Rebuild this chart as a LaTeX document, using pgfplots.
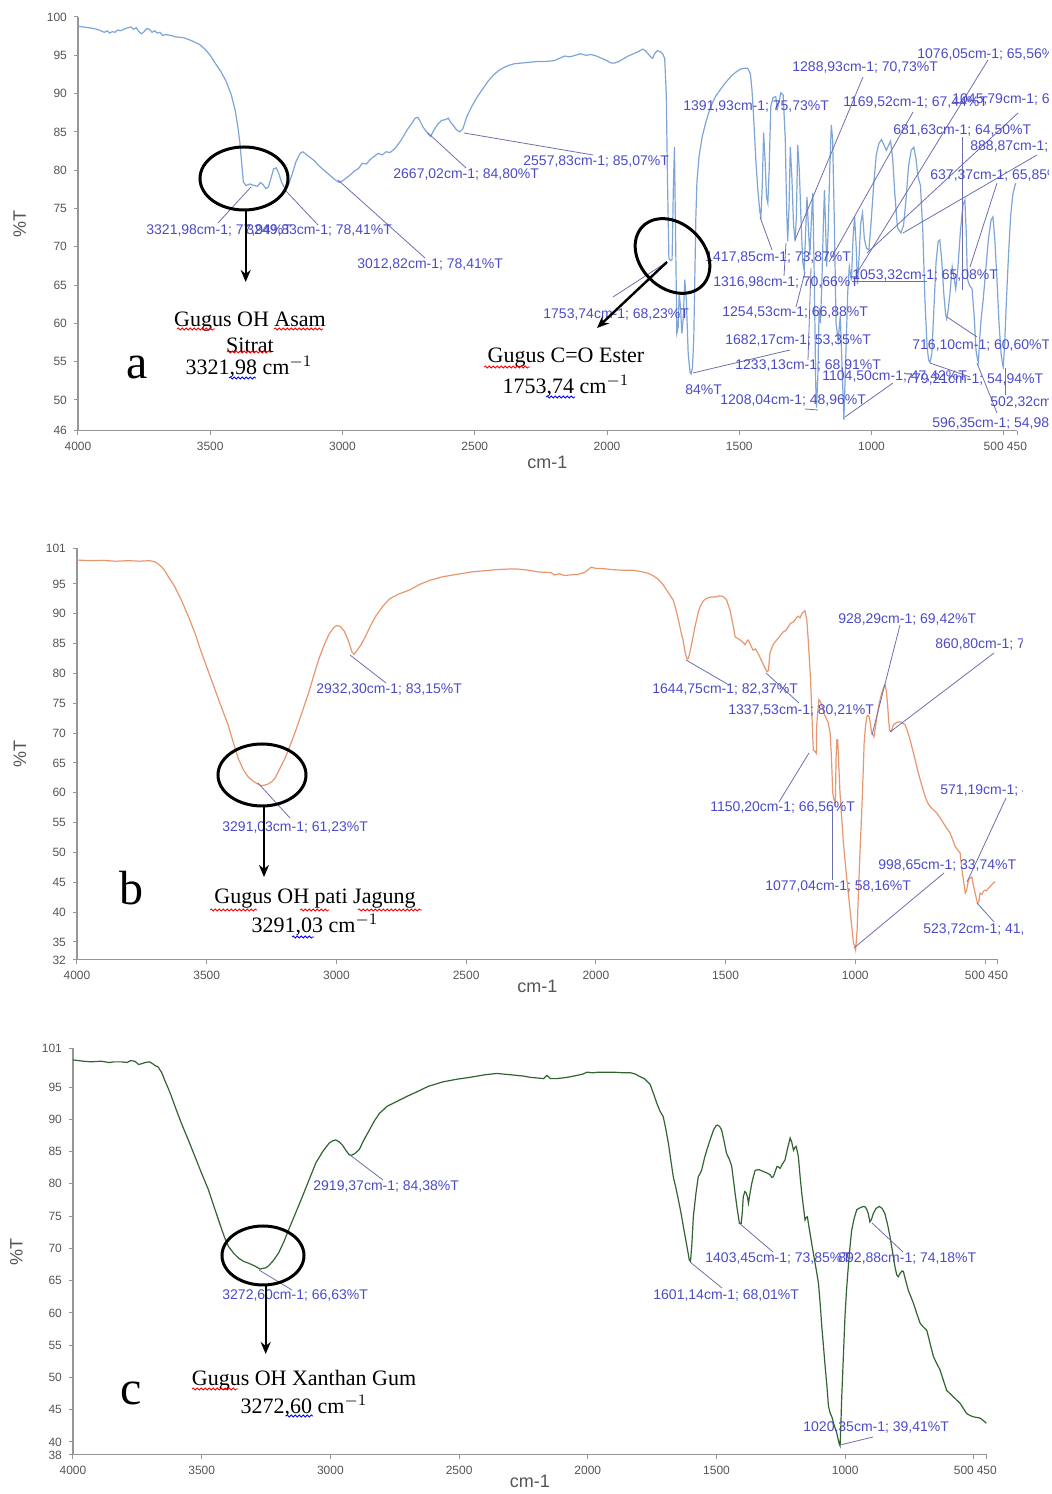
\documentclass[border=0pt]{standalone}
\usepackage{pgfplots}
\pgfplotsset{compat=1.18}
\usepackage{fontspec}
\setmainfont{Liberation Sans}
\newfontfamily\tnr{Liberation Serif}
\usetikzlibrary{arrows.meta,decorations.pathmorphing}
\definecolor{specA}{RGB}{125,165,215}
\definecolor{specB}{RGB}{232,150,110}
\definecolor{specC}{RGB}{50,100,50}
\definecolor{lbl}{RGB}{75,75,200}
\definecolor{lead}{RGB}{110,110,175}
\definecolor{tickgray}{RGB}{85,85,85}
\definecolor{axgray}{RGB}{150,150,150}
\pgfplotsset{
  ftir/.style={
    scale only axis, anchor=south west,
    x dir=reverse, xmin=450, xmax=4000,
    axis lines*=left,
    axis line style={draw=axgray, line width=0.6pt},
    every tick/.style={draw=axgray, line width=0.5pt},
    major tick length=2pt, tick align=outside,
    xtick={4000,3500,3000,2500,2000,1500,1000,450},
    xticklabels={4000,3500,3000,2500,2000,1500,1000,450},
    extra x ticks={500}, extra x tick labels={500},
    extra x tick style={xticklabel style={anchor=north east, xshift=3.5pt}},
    ticklabel style={font=\fontsize{6}{7}\selectfont, text=tickgray},
    /pgf/number format/assume math mode=true,
    xlabel={cm-1}, ylabel={\%T},
    label style={font=\fontsize{9}{10}\selectfont, text=tickgray},
    ylabel style={at={(axis description cs:-0.062,0.5)}, anchor=center},
    clip=false,
  },
}
\tikzset{
  lb/.style={anchor=west, inner sep=0pt, text=lbl, font=\fontsize{7}{8}\selectfont},
  ld/.style={draw=lead, line width=0.4pt},
  ann/.style={font=\tnr\fontsize{11}{12}\selectfont, inner sep=0pt},
  big/.style={font=\tnr\fontsize{24}{26}\selectfont, inner sep=0pt},
  ring/.style={draw=black, line width=1.5pt},
  arr/.style={draw=black, line width=1.2pt, -{Stealth[length=6pt,width=5pt]}},
  sqr/.style={draw=red, line width=0.4pt, decorate, decoration={snake, amplitude=0.5pt, segment length=2pt}},
  sqb/.style={draw=blue, line width=0.4pt, decorate, decoration={snake, amplitude=0.5pt, segment length=2pt}},
}
\begin{document}
\begin{tikzpicture}
\useasboundingbox (0,0) rectangle (526pt,747pt);
% ---------------- panel a ----------------
\begin{axis}[ftir, at={(39pt,531.7pt)}, width=469.5pt, height=206.8pt,
  ymin=46, ymax=100, ytick={46,50,55,60,65,70,75,80,85,90,95,100},
  xlabel style={at={(axis description cs:0.5,0)}, anchor=center, yshift=-15.7pt}]
\addplot[specA, line width=0.6pt] coordinates {
(4000,98.8)(3980,98.7)(3960,98.6)(3940,98.5)(3920,98.3)(3900,98.0)(3890,98.2)(3880,97.9)(3870,98.1)(3860,98.0)(3850,98.3)(3840,98.2)(3820,98.5)(3800,98.7)(3790,98.4)(3780,98.6)(3770,98.1)(3760,97.8)(3750,98.1)(3740,98.5)(3730,98.4)(3720,98.0)(3710,98.2)(3700,97.9)(3690,98.0)(3680,97.6)(3670,97.7)(3650,97.6)(3630,97.4)(3600,97.3)(3570,96.9)(3540,96.4)(3520,95.8)(3500,95.0)(3480,93.9)(3460,92.9)(3440,91.6)(3420,89.8)(3405,87.7)(3395,85.5)(3388,83.6)(3380,80.5)(3375,78.5)(3365,78.0)(3350,78.2)(3335,78.0)(3322,77.9)(3310,78.4)(3300,78.1)(3290,77.6)(3280,77.8)(3270,79.0)(3260,80.2)(3250,80.3)(3240,79.5)(3230,78.4)(3215,77.4)(3205,78.0)(3190,79.5)(3175,81.2)(3160,82.2)(3150,82.4)(3135,82.0)(3120,81.6)(3105,81.2)(3090,80.6)(3070,80.0)(3050,79.4)(3030,78.8)(3013,78.4)(3000,78.6)(2985,79.0)(2970,79.4)(2955,79.9)(2940,80.2)(2925,80.9)(2910,80.8)(2895,81.4)(2880,81.8)(2865,82.2)(2850,82.0)(2835,82.4)(2820,82.3)(2800,82.9)(2785,83.6)(2770,84.4)(2755,85.3)(2740,86.0)(2725,86.8)(2715,86.9)(2705,86.3)(2695,85.6)(2680,84.9)(2667,84.4)(2655,85.2)(2640,86.0)(2625,86.5)(2610,86.6)(2600,86.8)(2590,86.2)(2580,85.8)(2570,85.3)(2557,85.0)(2545,85.4)(2530,87.0)(2510,88.4)(2490,89.6)(2470,90.6)(2450,91.6)(2430,92.4)(2410,93.0)(2390,93.4)(2370,93.7)(2350,93.9)(2320,94.0)(2290,94.1)(2260,94.2)(2230,94.2)(2200,94.3)(2180,94.6)(2160,94.9)(2140,94.8)(2120,95.0)(2100,95.2)(2080,95.0)(2060,95.1)(2040,94.9)(2020,94.6)(2000,94.3)(1985,94.0)(1970,94.0)(1955,94.2)(1940,94.5)(1920,94.9)(1900,95.2)(1880,95.5)(1865,95.8)(1855,95.6)(1845,95.2)(1835,94.8)(1828,94.6)(1820,95.2)(1810,95.6)(1800,95.5)(1790,95.2)(1782,94.6)
(1776,90)(1771,78)(1766,68.5)(1760,68.2)(1754,68.3)(1749,78)(1745,83.0)(1741,72)(1736,58.7)(1731,59.5)(1727,64)(1722,62)(1717,58.7)(1712,60.5)(1706,65.7)(1700,63)(1693,56)(1686,53.6)(1682,53.4)(1677,54.2)(1672,58)(1668,66)(1664,74)(1660,78.5)(1652,81.8)(1640,84.4)(1626,86.3)(1608,88.3)(1590,89.6)(1570,90.6)(1550,91.5)(1530,92.3)(1513,92.8)(1495,93.2)(1480,93.3)(1468,93.3)(1458,92.6)(1452,90.5)(1445,86.5)(1438,81.7)(1430,77.5)(1422,74.5)(1418,73.9)(1413,78)(1408,84.9)(1402,81)(1397,76.5)(1392,75.7)(1387,80)(1381,88.3)(1372,89.5)(1362,89.6)(1356,88.0)(1350,88.8)(1343,90.1)(1334,89.8)(1326,84)(1321,75)(1317,70.7)(1312,75)(1307,83.0)(1301,79)(1295,73)(1289,70.7)(1284,74)(1279,83.3)(1273,80)(1266,73)(1260,68)(1254.5,66.9)(1249,72)(1244,76.5)(1238,72)(1233,68.9)(1228,73)(1222,77)(1216,65)(1211,52)(1208,49.0)(1203,53)(1198,62)(1193,60)(1188,65)(1182,73)(1178,77.4)(1174,73)(1169.5,67.4)(1164,72)(1158,80)(1152,85.9)(1147,84)(1141,74)(1134,60)(1126,57.8)(1118,61)(1112,55)(1104.5,47.4)(1097,56)(1090,64)(1084,67.4)(1076,65.6)(1070,71)(1064,74)(1058,70)(1053,65.1)(1048,68)(1041,73)(1034,74.4)(1027,71)(1019,69.8)(1010,69.6)(1002,73)(992,78)(982,82)(972,83.5)(962,84.0)(952,83.2)(944,82.6)(936,83.2)(928,83.8)(920,81.5)(912,77)(902,72.5)(889,71.8)(879,72.8)(870,76)(860,80.5)(850,82.6)(840,83.0)(832,81.5)(824,79.1)(815,78)(806,72)(798,63)(790,57)(784,55.2)(779,54.9)(772,56)(764,62)(756,68)(748,70.7)(742,70.9)(735,68.5)(727,64)(720,61.2)(716,60.6)(711,61.5)(703,64)(695,67.4)(688,66)(681.6,64.5)(674,67)(664,72)(654,75.5)(647,76.1)(642,72)(637.4,65.8)(630,65)(620,64.5)(612,61)(605,56.5)(599,55.2)(596,54.9)(591,58)(585,60.8)(578,63)(568,67)(558,71)(548,73.5)(541,73.9)(534,71)(526,66)(518,60)(510,56)(504,54.5)(502,54.3)(497,57)(490,63)(482,69)(474,74)(466,76.8)(458,78)(454,78.3)
};
\end{axis}
% ---------------- panel b ----------------
\begin{axis}[ftir, at={(38.5pt,267.05pt)}, width=460.5pt, height=205.9pt,
  ymin=32, ymax=101, ytick={32,35,40,45,50,55,60,65,70,75,80,85,90,95,101},
  xlabel style={at={(axis description cs:0.5,0)}, anchor=center, yshift=-13.5pt}]
\addplot[specB, line width=0.6pt] coordinates {
(4000,99.0)(3950,98.9)(3900,98.95)(3850,98.8)(3800,98.9)(3760,98.8)(3720,98.9)(3700,98.7)(3689,98.4)(3675,97.9)(3663,97.3)(3645,96.0)(3624,94.6)(3600,92.5)(3572,89.7)(3545,86.7)(3521,83.6)(3495,80.5)(3469,77.4)(3443,74.3)(3417,71.3)(3398,68.5)(3378,65.7)(3358,63.8)(3339,62.6)(3320,61.9)(3300,61.4)(3291,61.2)(3275,61.3)(3262,61.5)(3248,61.9)(3236,62.5)(3220,63.9)(3197,65.9)(3178,68.0)(3158,70.3)(3130,73.8)(3106,76.9)(3085,80.0)(3067,82.5)(3045,85.0)(3028,86.6)(3010,87.7)(3000,88.0)(2985,87.9)(2970,87.1)(2955,85.6)(2940,83.6)(2932,83.2)(2920,83.9)(2905,84.8)(2886,86.4)(2865,88.3)(2847,89.7)(2820,91.3)(2795,92.5)(2760,93.3)(2717,94.0)(2680,94.9)(2640,95.6)(2590,96.2)(2536,96.6)(2480,97.0)(2432,97.2)(2380,97.4)(2330,97.5)(2303,97.5)(2260,97.3)(2220,97.0)(2173,96.9)(2160,96.5)(2140,96.7)(2121,96.4)(2100,96.5)(2070,96.6)(2044,96.9)(2030,97.4)(2018,97.8)(2000,97.6)(1980,97.6)(1960,97.5)(1940,97.4)(1900,97.3)(1860,97.3)(1830,97.1)(1800,96.8)(1780,96.4)(1760,95.8)(1740,94.8)(1720,93.5)(1702,92.3)(1690,90.5)(1680,88.6)(1672,87.0)(1664,85.6)(1656,83.5)(1650,82.6)(1645,82.4)(1638,83.4)(1630,85.1)(1618,87.8)(1605,90.3)(1598,91.2)(1585,92.2)(1573,92.6)(1555,92.8)(1540,92.8)(1525,93.0)(1510,92.9)(1497,92.4)(1483,90.6)(1473,88.5)(1463,86.1)(1454,85.9)(1444,85.6)(1432,85.2)(1425,84.8)(1418,85.4)(1413,85.6)(1404,84.8)(1394,83.9)(1385,84.1)(1375,83.4)(1362,82.2)(1348,80.9)(1340,80.3)(1335,80.5)(1329,83.4)(1316,84.9)(1303,85.6)(1290,86.3)(1277,87.0)(1268,87.2)(1258,87.8)(1250,88.4)(1239,88.6)(1232,89.0)(1226,89.4)(1220,89.6)(1213,89.3)(1206,90.0)(1200,90.3)(1194,90.5)(1187,89.0)(1182,86.0)(1177,82.3)(1172,78.5)(1168,73.9)(1165,70.5)(1162,67.2)(1155,66.9)(1150,66.6)(1149,71.1)(1144,74.0)(1140,75.6)(1135,75.3)(1129,74.7)(1122,73.5)(1116,72.8)(1110,72.3)(1104,71.7)(1097,70.0)(1092,66)(1087,60.0)(1082,58.8)(1077,58.2)(1074,66)(1071,68.9)(1068,68.9)(1064,65)(1059,60.0)(1052,55.5)(1046,51.6)(1037,47.5)(1027,43.2)(1017,39.0)(1007,34.8)(1001,34.2)(998.7,33.7)(993,37)(988,43.2)(982,50)(975,57.1)(970,63)(966,68.3)(961,71)(956,72.7)(951,73)(946,72.7)(940,71)(937,70.0)(930,69.6)(928,69.4)(924,70.5)(917,72.7)(908,75)(898,76.7)(890,77.8)(885,78.1)(880,77)(876,75.0)(872,72.5)(868,70.5)(861,70.3)(853,71.4)(840,71.8)(827,71.9)(815,71.6)(808,71.4)(798,70.2)(789,68.9)(779,67.2)(769,65.5)(760,63.8)(750,62.2)(740,60.7)(731,59.4)(722,58.4)(712,57.7)(700,57.2)(686,56.6)(673,55.8)(660,54.9)(648,54.1)(635,53.3)(625,52.2)(615,51.0)(605,50.4)(596,49.9)(589,47.1)(582,45)(576,43.2)(571,43.6)(564,45.4)(557,45.7)(551,45.9)(545,44.5)(538,43.2)(533,42.2)(529,41.5)(524,41.7)(519,43.2)(512,43.0)(506,43.5)(500,43.7)(494,43.6)(487,44.0)(480,44.3)(474,44.6)(468,44.9)(461,45.1)
};
\end{axis}
% ---------------- panel c ----------------
\begin{axis}[ftir, at={(36.5pt,19.55pt)}, width=456.9pt, height=203.3pt,
  ymin=38, ymax=101, ytick={38,40,45,50,55,60,65,70,75,80,85,90,95,101},
  xlabel style={at={(axis description cs:0.5,0)}, anchor=center, yshift=-13pt}]
\addplot[specC, line width=0.6pt] coordinates {
(4000,99.2)(3960,99.0)(3930,98.9)(3891,99.0)(3860,98.8)(3840,98.9)(3812,98.9)(3790,98.8)(3775,99.1)(3760,99.0)(3745,98.5)(3734,98.6)(3720,98.8)(3703,98.9)(3690,98.6)(3680,98.3)(3669,98.1)(3655,97.2)(3643,96.0)(3630,94.8)(3617,93.5)(3600,91.6)(3578,89.3)(3552,86.8)(3526,84.2)(3500,81.6)(3474,79.1)(3448,76.0)(3422,72.9)(3410,71.6)(3396,70.3)(3375,69.2)(3357,68.5)(3338,68.0)(3318,67.7)(3295,67.3)(3273,66.8)(3262,66.9)(3250,67.0)(3240,67.3)(3220,68.2)(3201,69.3)(3180,71.1)(3162,72.9)(3135,75.5)(3109,78.0)(3083,80.6)(3057,83.2)(3030,85.0)(3005,86.3)(2990,86.7)(2979,86.8)(2966,86.5)(2953,86.0)(2940,85.2)(2927,84.5)(2919,84.4)(2905,84.7)(2888,85.3)(2870,86.8)(2849,88.3)(2830,89.7)(2810,90.9)(2780,92.0)(2745,92.7)(2700,93.6)(2667,94.2)(2620,95.1)(2563,95.8)(2510,96.2)(2458,96.5)(2400,96.9)(2354,97.1)(2300,96.9)(2250,96.7)(2224,96.5)(2195,96.4)(2172,96.3)(2159,96.8)(2145,96.3)(2120,96.3)(2080,96.5)(2042,96.8)(2020,97.0)(2003,97.3)(1980,97.2)(1960,97.3)(1938,97.3)(1900,97.3)(1860,97.2)(1833,97.2)(1815,97.0)(1797,96.6)(1780,96.3)(1770,95.9)(1758,95.4)(1745,94.0)(1732,92.5)(1720,91.3)(1707,90.4)(1697,88.5)(1687,86.3)(1678,83.8)(1668,81.1)(1658,79.4)(1648,77.5)(1638,75.5)(1629,73.4)(1618,71.0)(1610,69.2)(1606,68.2)(1601,68.0)(1596,70.5)(1590,74.9)(1580,78.5)(1571,81.1)(1565,81.5)(1558,82.1)(1548,83.8)(1538,85.2)(1525,86.8)(1512,88.3)(1502,89.0)(1497,89.1)(1488,88.9)(1480,88.3)(1470,86.5)(1461,84.7)(1450,83.8)(1441,82.7)(1434,80.5)(1428,78.6)(1420,76.2)(1411,73.9)(1404,73.9)(1400,75.5)(1396,78.0)(1390,78.8)(1385,78.6)(1380,78.0)(1376,77.0)(1370,78.5)(1363,80.1)(1356,81.2)(1350,82.1)(1335,82.2)(1318,81.9)(1305,81.7)(1292,81.4)(1285,81.0)(1279,81.1)(1272,81.9)(1265,82.7)(1259,82.6)(1253,82.4)(1245,83.0)(1234,83.7)(1224,85.5)(1214,87.1)(1208,86.5)(1201,85.2)(1196,85.6)(1191,85.8)(1186,85.0)(1182,84.2)(1175,81.0)(1169,78.6)(1162,76.3)(1156,74.4)(1151,74.8)(1147,74.9)(1142,73.6)(1137,72.4)(1127,70.0)(1117,67.7)(1110,66.1)(1104,64.6)(1097,61.3)(1091,57.9)(1084,54.6)(1078,51.7)(1071,48.6)(1065,45.5)(1058,44.4)(1052,43.9)(1043,42.6)(1033,41.4)(1028,40.5)(1024,39.8)(1020,39.4)(1017,42.5)(1014,46.5)(1008,52.5)(1001,59.4)(995,63.5)(988,67.2)(982,70.0)(975,72.8)(965,74.7)(955,76.0)(942,76.3)(929,76.5)(922,76.4)(916,76.0)(910,75.3)(904,74.1)(898,74.5)(891,75.4)(880,76.2)(868,76.5)(857,76.2)(846,75.4)(836,73.8)(826,71.8)(816,69.4)(807,67.2)(800,65.9)(794,65.6)(786,66.2)(779,66.5)(774,66.4)(765,65.0)(755,63.5)(745,62.5)(735,61.5)(722,59.9)(709,58.4)(696,57.8)(683,57.3)(670,55.2)(657,53.2)(645,52.2)(632,51.2)(619,49.6)(606,48.0)(593,47.5)(580,47.0)(567,46.5)(554,46.0)(541,45.2)(528,44.4)(515,44.1)(502,43.9)(489,43.8)(476,43.7)(466,43.4)(457,43.1)(452,42.9)
};
\end{axis}
% ---------------- annotations (pixel coordinates) ----------------
\begin{scope}[x=0.5pt,y=-0.5pt,yshift=747pt]
% panel a leader lines
\draw[ld] (218,223)--(251,187);
\draw[ld] (285,190)--(318,225);
\draw[ld] (338,180)--(425,258);
\draw[ld] (428,133)--(466,168);
\draw[ld] (464,133)--(593,155);
\draw[ld] (667,262)--(613,297);
\draw[ld] (760,217)--(772,250);
\draw[ld] (786,243)--(784,276);
\draw[ld] (796,307)--(805,272);
\draw[ld] (693,373)--(790,350);
\draw[ld] (808,360)--(811,268);
\draw[ld] (805,409)--(818,410);
\draw[ld] (845,417)--(893,383);
\draw[ld] (863,77)--(795,240);
\draw[ld] (913,112)--(829,262);
\draw[ld] (988,60)--(857,273);
\draw[ld] (1018,113)--(867,253);
\draw[ld] (1037,155)--(903,233);
\draw[ld] (962,137)--(962,290);
\draw[ld] (997,183)--(970,267);
\draw[ld] (947,317)--(977,337);
\draw[ld] (930,363)--(970,377);
\draw[ld] (997,413)--(977,363);
\draw[ld] (852,281)--(927,281);
\draw[ld] (1005,395)--(1005,368);
\begin{scope}
\clip (0,0) rectangle (1048,480);
\node[lb] at (146,231) {3321,98cm-1; 77,94\%T};
\node[lb] at (246,231) {3249,83cm-1; 78,41\%T};
\node[lb] at (357,265) {3012,82cm-1; 78,41\%T};
\node[lb] at (393,175) {2667,02cm-1; 84,80\%T};
\node[lb] at (523,162) {2557,83cm-1; 85,07\%T};
\node[lb] at (543,315) {1753,74cm-1; 68,23\%T};
\node[lb] at (683,107) {1391,93cm-1; 75,73\%T};
\node[lb] at (792,68) {1288,93cm-1; 70,73\%T};
\node[lb] at (917,55) {1076,05cm-1; 65,56\%T};
\node[lb] at (843,103) {1169,52cm-1; 67,44\%T};
\node[lb] at (952,100) {1045,79cm-1; 64,98\%T};
\node[lb] at (893,131) {681,63cm-1; 64,50\%T};
\node[lb] at (970,147) {888,87cm-1; 71,80\%T};
\node[lb] at (930,176) {637,37cm-1; 65,85\%T};
\node[lb] at (705,258) {1417,85cm-1; 73,87\%T};
\node[lb] at (713,283) {1316,98cm-1; 70,66\%T};
\node[lb] at (852,276) {1053,32cm-1; 65,08\%T};
\node[lb] at (722,313) {1254,53cm-1; 66,88\%T};
\node[lb] at (725,341) {1682,17cm-1; 53,35\%T};
\node[lb] at (912,346) {716,10cm-1; 60,60\%T};
\node[lb] at (735,366) {1233,13cm-1; 68,91\%T};
\node[lb] at (822,377) {1104,50cm-1; 47,42\%T};
\node[lb] at (905,380) {779,21cm-1; 54,94\%T};
\node[lb] at (685,390) {84\%T};
\node[lb] at (720,401) {1208,04cm-1; 48,96\%T};
\node[lb] at (990,403) {502,32cm-1; 54,30\%T};
\node[lb] at (932,424) {596,35cm-1; 54,98\%T};
\end{scope}
% panel a annotations
\draw[ring] (244,178.5) ellipse [x radius=22pt, y radius=15.75pt];
\draw[arr] (245.7,210)--(245.7,282);
\node[ann] at (250,322) {Gugus OH Asam};
\node[ann] at (250,345) {Sitrat};
\node[ann] at (249,367) {3321,98 cm$^{-1}$};
\node[big] at (137,367) {a};
\draw[sqr] (177,329)--(215,329);
\draw[sqr] (274,329)--(323,329);
\draw[sqr] (227,352)--(271,352);
\draw[sqb] (229,378)--(256,378);
\draw[ring, rotate around={-45:(672.5,256)}] (672.5,256) ellipse [x radius=21pt, y radius=16pt];
\draw[arr] (667,262)--(597,328);
\node[ann] at (566,358) {Gugus C=O Ester};
\node[ann] at (566,386) {1753,74 cm$^{-1}$};
\draw[sqr] (484,367)--(530,367);
\draw[sqb] (546,397)--(575,397);
% panel b leader lines
\draw[ld] (258,783)--(290,818);
\draw[ld] (350,655)--(386,683);
\draw[ld] (686,660)--(729,685);
\draw[ld] (766,673)--(799,703);
\draw[ld] (872,735)--(900,625);
\draw[ld] (890,732)--(994,653);
\draw[ld] (779,802)--(809,753);
\draw[ld] (832,880)--(832,807);
\draw[ld] (854,948)--(944,873);
\draw[ld] (967,882)--(1006,798);
\draw[ld] (977,903)--(994,922);
\begin{scope}
\clip (0,540) rectangle (1022,1000);
\node[lb] at (316,690) {2932,30cm-1; 83,15\%T};
\node[lb] at (222,828) {3291,03cm-1; 61,23\%T};
\node[lb] at (652,690) {1644,75cm-1; 82,37\%T};
\node[lb] at (728,711) {1337,53cm-1; 80,21\%T};
\node[lb] at (838,620) {928,29cm-1; 69,42\%T};
\node[lb] at (935,645) {860,80cm-1; 70,40\%T};
\node[lb] at (710,808) {1150,20cm-1; 66,56\%T};
\node[lb] at (940,791) {571,19cm-1; 43,02\%T};
\node[lb] at (878,866) {998,65cm-1; 33,74\%T};
\node[lb] at (765,887) {1077,04cm-1; 58,16\%T};
\node[lb] at (923,930) {523,72cm-1; 41,66\%T};
\end{scope}
\draw[ring] (262,775) ellipse [x radius=22pt, y radius=15.5pt];
\draw[arr] (264,806)--(264,877);
\node[ann] at (315,899) {Gugus OH pati Jagung};
\node[ann] at (315,925) {3291,03 cm$^{-1}$};
\node[big] at (131,888) {b};
\draw[sqr] (210,910)--(257,910);
\draw[sqr] (300,910)--(329,910);
\draw[sqr] (358,910)--(422,910);
\draw[sqb] (292,937)--(314,937);
% panel c leader lines
\draw[ld] (259,1270)--(292,1290);
\draw[ld] (350,1155)--(383,1180);
\draw[ld] (690,1262)--(722,1288);
\draw[ld] (739,1223)--(773,1252);
\draw[ld] (872,1223)--(903,1252);
\draw[ld] (840,1445)--(873,1437);
\node[lb] at (313,1187) {2919,37cm-1; 84,38\%T};
\node[lb] at (222,1296) {3272,60cm-1; 66,63\%T};
\node[lb] at (653,1296) {1601,14cm-1; 68,01\%T};
\node[lb] at (705,1259) {1403,45cm-1; 73,85\%T};
\node[lb] at (838,1259) {892,88cm-1; 74,18\%T};
\node[lb] at (803,1428) {1020,35cm-1; 39,41\%T};
\draw[ring] (263,1255.5) ellipse [x radius=20.5pt, y radius=14.75pt];
\draw[arr] (265.7,1285)--(265.7,1354);
\node[ann] at (304,1380) {Gugus OH Xanthan Gum};
\node[ann] at (304,1406) {3272,60 cm$^{-1}$};
\node[big] at (131,1393) {c};
\draw[sqr] (192,1389)--(238,1389);
\draw[sqb] (286,1416)--(313,1416);
\end{scope}
\end{tikzpicture}
\end{document}
